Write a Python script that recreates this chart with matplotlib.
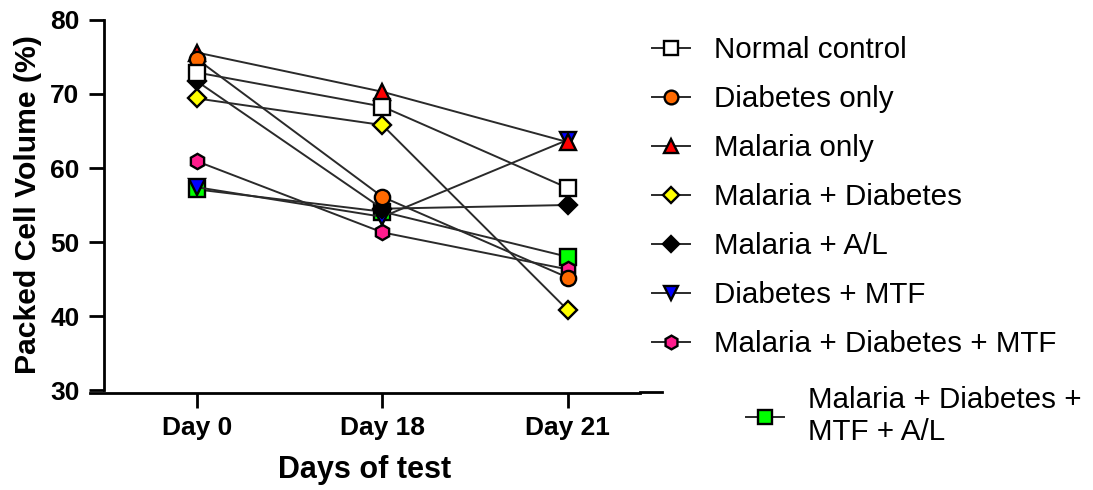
import matplotlib
matplotlib.use("Agg")
import matplotlib.pyplot as plt
from matplotlib.lines import Line2D

plt.rcParams['font.family'] = ['Liberation Sans', 'DejaVu Sans']

# days of test and packed cell volume (%) per group
days = ["Day 0", "Day 18", "Day 21"]
normal_control = [72.9, 68.3, 57.3]
diabetes_only = [74.7, 56.1, 45.2]
malaria_only = [75.6, 70.3, 63.5]
malaria_diabetes = [69.4, 65.8, 40.8]
malaria_al = [71.7, 54.5, 55.0]
diabetes_mtf = [57.4, 53.4, 63.8]
malaria_diabetes_mtf = [60.9, 51.3, 46.3]
malaria_diabetes_mtf_al = [57.1, 54.1, 48.0]

series = [
    ("Normal control", normal_control, "s", "white"),
    ("Diabetes only", diabetes_only, "o", "#ff6a00"),
    ("Malaria only", malaria_only, "^", "#ff0000"),
    ("Malaria + Diabetes", malaria_diabetes, "D", "#ffff00"),
    ("Malaria + A/L", malaria_al, "D", "black"),
    ("Diabetes + MTF", diabetes_mtf, "v", "#0000ff"),
    ("Malaria + Diabetes + MTF", malaria_diabetes_mtf, "h", "#ff1c8d"),
]
last = ("Malaria + Diabetes +\nMTF + A/L", malaria_diabetes_mtf_al, "s", "#00ff00")

fig = plt.figure(figsize=(10.93, 4.9), dpi=100)
ax = fig.add_axes([90 / 1093, 1 - 390 / 490, 550 / 1093, 370 / 490])

x = list(range(len(days)))
handles = []
for i, (name, vals, mk, col) in enumerate(series + [last]):
    ms = 9.5 if mk == "D" else 11
    # first groups sit on top, like the original
    h, = ax.plot(x, vals, color="#2a2a2a", lw=1.4, marker=mk, ms=ms,
                 mfc=col, mec="black", mew=1.7, label=name, clip_on=False,
                 zorder=10 - i)
    handles.append(h)

ax.set_xlim(-0.578, 2.39)
ax.set_ylim(30, 80)
ax.set_yticks([30, 40, 50, 60, 70, 80])
ax.set_xticks(x)
ax.set_xticklabels(days)
for s in ["top", "right"]:
    ax.spines[s].set_visible(False)
ax.spines["left"].set_position(("data", -0.503))
ax.spines["left"].set_bounds(30, 80)
ax.spines["bottom"].set_position(("outward", 2))
ax.spines["left"].set_linewidth(2)
ax.spines["bottom"].set_linewidth(2)
ax.tick_params(width=2, length=10.5, labelsize=19)
ax.tick_params(axis="y", pad=7)
ax.tick_params(axis="x", pad=6)
for lab in ax.get_xticklabels() + ax.get_yticklabels():
    lab.set_fontweight("bold")
ax.set_ylabel("Packed Cell Volume (%)", fontsize=21.7, fontweight="bold", labelpad=6)
ax.set_xlabel("Days of test", fontsize=22, fontweight="bold", labelpad=11)

leg1 = fig.legend(handles=handles[:7], loc="upper left",
                  bbox_to_anchor=(652 / 1093, 1 - 36 / 490), frameon=False,
                  fontsize=21.3, handlelength=1.3, handletextpad=0.78,
                  labelspacing=0.71, borderpad=0, borderaxespad=0,
                  markerscale=0.9)
leg2 = fig.legend(handles=handles[7:], loc="upper left",
                  bbox_to_anchor=(746 / 1093, 1 - 386 / 490), frameon=False,
                  fontsize=21.3, handlelength=1.3, handletextpad=0.78,
                  borderpad=0, borderaxespad=0, markerscale=0.9)
fig.add_artist(Line2D([640 / 1093, 662 / 1093], [1 - 392 / 490, 1 - 392 / 490],
                      color="black", lw=2, transform=fig.transFigure))

fig.savefig("out.png", dpi=100)
